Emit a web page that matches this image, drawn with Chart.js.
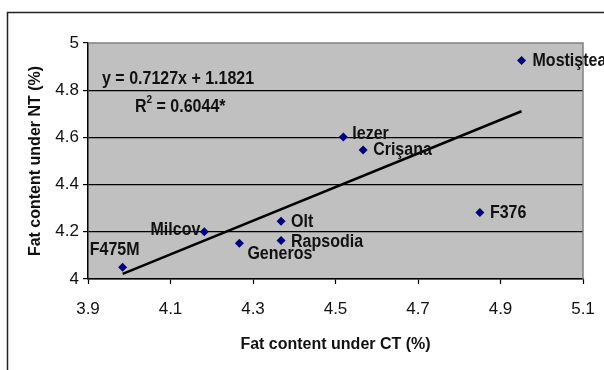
<!DOCTYPE html>
<html>
<head>
<meta charset="utf-8">
<script src="https://cdn.jsdelivr.net/npm/chart.js"></script>
<style>
  html, body { margin: 0; padding: 0; background: #fff; }
  #wrap { width: 604px; height: 370px; }
</style>
</head>
<body>
<div id="wrap"><canvas id="chart" width="604" height="370"></canvas></div>
<script>
// data
const cultivars = ["F475M", "Milcov", "Generos", "Olt", "Rapsodia", "Iezer", "Crişana", "Mostiştea", "F376"]
const fatCT = [3.984, 4.182, 4.267, 4.368, 4.368, 4.519, 4.567, 4.951, 4.850]
const fatNT = [4.05, 4.20, 4.152, 4.245, 4.163, 4.602, 4.547, 4.926, 4.282]
const xTicks = [3.9, 4.1, 4.3, 4.5, 4.7, 4.9, 5.1]
const xTickLabels = ["3.9", "4.1", "4.3", "4.5", "4.7", "4.9", "5.1"]
const yTicks = [4, 4.2, 4.4, 4.6, 4.8, 5]
const yTickLabels = ["4", "4.2", "4.4", "4.6", "4.8", "5"]
const trendSlope = 0.7127
const trendIntercept = 1.1821
const rSquaredText = "0.6044*"

const FONT = "'Liberation Sans', Arial, sans-serif"
const STRETCH = 1.15 // the original text is a bit taller than wide

// where each point label sits, relative to its marker
const labelPlace = {
  "F475M": { dx: -8, dy: -17, align: "center" },
  "Milcov": { dx: -4, dy: -1.5, align: "right" },
  "Generos": { dx: 8, dy: 11, align: "left" },
  "Olt": { dx: 10, dy: 0.5, align: "left" },
  "Rapsodia": { dx: 10, dy: 1, align: "left" },
  "Iezer": { dx: 9, dy: -3, align: "left" },
  "Crişana": { dx: 10, dy: 0, align: "left" },
  "Mostiştea": { dx: 11, dy: 0, align: "left" },
  "F376": { dx: 10, dy: 0, align: "left" },
}

const points = fatCT.map((x, i) => ({ x: x, y: fatNT[i] }))
const minX = Math.min(...fatCT)
const maxX = Math.max(...fatCT)
const trend = [
  { x: minX, y: trendSlope * minX + trendIntercept },
  { x: maxX, y: trendSlope * maxX + trendIntercept },
]

function tallText(ctx, text, x, y) {
  ctx.save()
  ctx.translate(x, y)
  ctx.scale(1, STRETCH)
  ctx.fillText(text, 0, 0)
  ctx.restore()
}

const framePlugin = {
  id: "frame",
  beforeDraw(chart) {
    const { ctx, chartArea: a } = chart
    ctx.save()
    ctx.fillStyle = "#fff"
    ctx.fillRect(0, 0, chart.width, chart.height)
    ctx.strokeStyle = "#222"
    ctx.lineWidth = 1.5
    ctx.strokeRect(7.5, 12.5, chart.width + 10, chart.height + 10)
    ctx.fillStyle = "#c0c0c0"
    ctx.fillRect(a.left, a.top, a.right - a.left, a.bottom - a.top)
    ctx.restore()
  },
  beforeDatasetsDraw(chart) {
    const { ctx, chartArea: a } = chart
    ctx.save()
    ctx.strokeStyle = "#808080"
    ctx.lineWidth = 1.5
    ctx.beginPath()
    ctx.moveTo(a.left, a.top)
    ctx.lineTo(a.right, a.top)
    ctx.lineTo(a.right, a.bottom)
    ctx.stroke()
    ctx.restore()
  },
  afterDatasetsDraw(chart) {
    const { ctx, chartArea: a } = chart
    const meta = chart.getDatasetMeta(0)
    ctx.save()
    ctx.fillStyle = "#111"
    ctx.font = "bold 16px " + FONT
    ctx.textBaseline = "middle"
    meta.data.forEach((pt, i) => {
      const p = labelPlace[cultivars[i]]
      ctx.textAlign = p.align
      tallText(ctx, cultivars[i], pt.x + p.dx, pt.y + p.dy)
    })

    // regression equation
    ctx.textAlign = "left"
    tallText(ctx, "y = " + trendSlope + "x + " + trendIntercept, a.left + 14, a.top + 36)
    let x = a.left + 47
    const y = a.top + 64
    tallText(ctx, "R", x, y)
    x += ctx.measureText("R").width
    ctx.font = "bold 10px " + FONT
    tallText(ctx, "2", x, y - 7)
    x += ctx.measureText("2").width
    ctx.font = "bold 16px " + FONT
    tallText(ctx, " = " + rSquaredText, x, y)
    ctx.restore()
  },
}

new Chart(document.getElementById("chart"), {
  type: "scatter",
  data: {
    datasets: [
      {
        data: points,
        pointStyle: "rectRot",
        pointRadius: 4.5,
        backgroundColor: "#000080",
        borderColor: "#000080",
        borderWidth: 0,
      },
      {
        data: trend,
        showLine: true,
        pointRadius: 0,
        borderColor: "#000",
        borderWidth: 2.5,
      },
    ],
  },
  options: {
    responsive: false,
    animation: false,
    devicePixelRatio: 1,
    layout: { padding: { top: 43, right: 21, left: 0, bottom: 0 } },
    plugins: { legend: { display: false }, tooltip: { enabled: false } },
    scales: {
      x: {
        type: "linear",
        min: 3.9,
        max: 5.1,
        afterBuildTicks: (s) => { s.ticks = xTicks.map((v) => ({ value: v })) },
        afterFit: (s) => {
          s.height = 91
          s.paddingLeft = 0
          s.paddingRight = 0
        },
        ticks: {
          callback: (v, i) => xTickLabels[i],
          autoSkip: false,
          maxRotation: 0,
          color: "#111",
          padding: 15,
          font: { family: FONT, size: 17 },
        },
        grid: { drawOnChartArea: false, tickLength: 5, tickColor: "#000", tickWidth: 1.2 },
        border: { color: "#000", width: 1.5 },
        title: {
          display: true,
          text: "Fat content under CT (%)",
          color: "#111",
          font: { family: FONT, size: 16, weight: "bold" },
          padding: { top: 0, bottom: 16 },
        },
      },
      y: {
        type: "linear",
        min: 4,
        max: 5,
        afterBuildTicks: (s) => { s.ticks = yTicks.map((v) => ({ value: v })) },
        afterFit: (s) => { s.width = 88 },
        ticks: {
          callback: (v, i) => yTickLabels[i],
          autoSkip: false,
          color: "#111",
          padding: 4,
          font: { family: FONT, size: 17 },
        },
        grid: {
          color: (c) => (c.tick && c.tick.value === 5 ? "rgba(0,0,0,0)" : "#000"),
          lineWidth: 1.2,
          tickLength: 5,
          tickColor: "#000",
          tickWidth: 1.2,
        },
        border: { color: "#000", width: 1.5 },
        title: {
          display: true,
          text: "Fat content under NT (%)",
          color: "#111",
          font: { family: FONT, size: 16, weight: "bold" },
          padding: { top: 26, bottom: 0 },
        },
      },
    },
  },
  plugins: [framePlugin],
})
</script>
</body>
</html>
